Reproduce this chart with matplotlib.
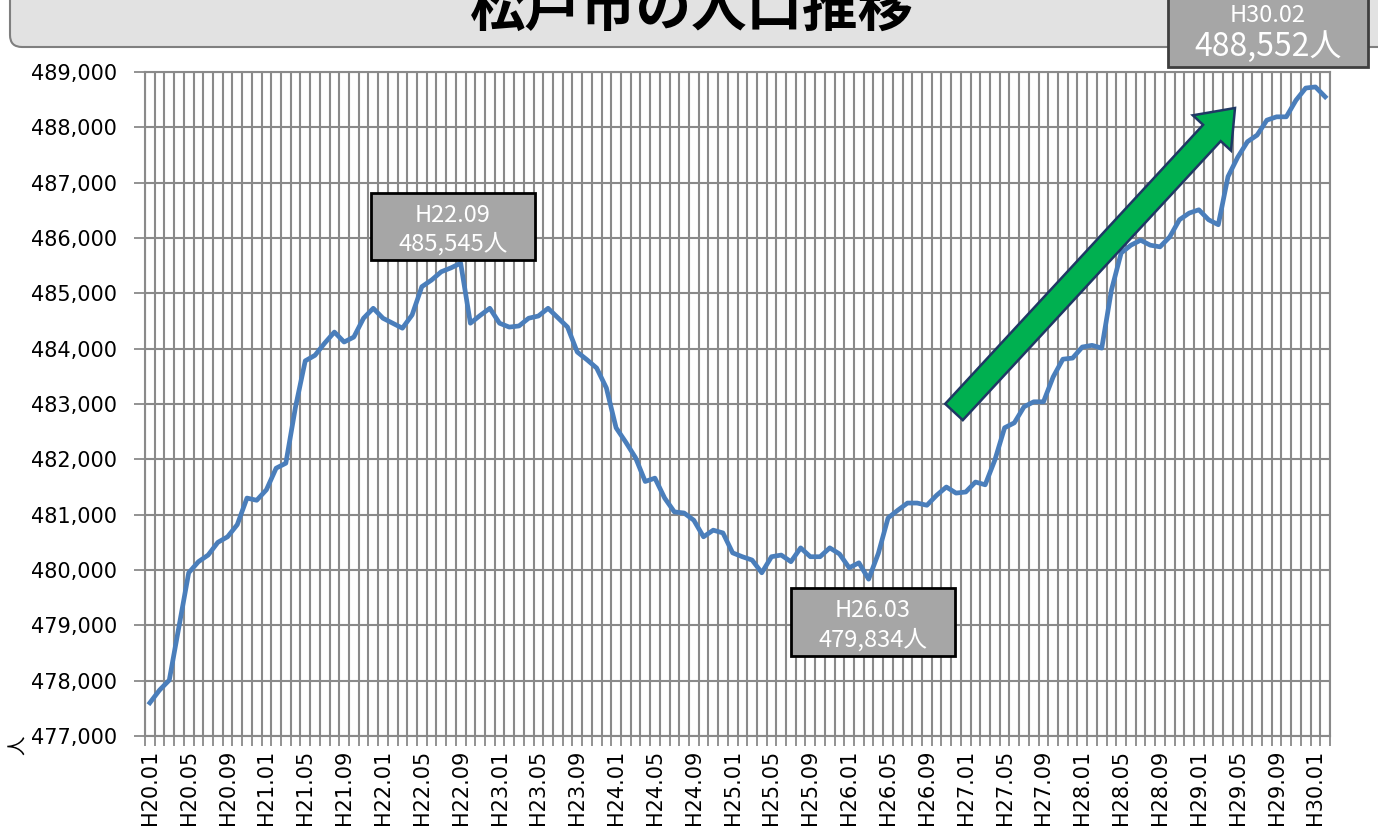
import numpy as np
import matplotlib
matplotlib.use("Agg")
import matplotlib.pyplot as plt
from matplotlib.patches import Rectangle, FancyBboxPatch, Polygon
from matplotlib.transforms import Affine2D

plt.rcParams['font.family'] = ['DejaVu Sans', 'Noto Sans CJK JP']

# monthly population, H20.01 .. H30.02
months = []
for y in range(20, 31):
    for m in range(1, 13):
        months.append(f"H{y}.{m:02d}")
months = months[:122]

population = [
    477600, 477830, 478010, 478980, 479950, 480150, 480270, 480500,
    480600, 480820, 481300, 481260, 481450, 481840, 481930, 482950,
    483780, 483880, 484100, 484300, 484120, 484210, 484550, 484730,
    484550, 484460, 484370, 484610, 485120, 485240, 485390, 485460,
    485545, 484460, 484600, 484730, 484460, 484390, 484410, 484550,
    484590, 484730, 484560, 484390, 483940, 483800, 483650, 483290,
    482570, 482310, 482030, 481600, 481660, 481300, 481050, 481030,
    480900, 480600, 480720, 480670, 480310, 480240, 480180, 479950,
    480240, 480270, 480150, 480400, 480240, 480240, 480400, 480290,
    480040, 480130, 479834, 480300, 480940, 481080, 481210, 481210,
    481170, 481350, 481500, 481390, 481410, 481590, 481540, 481990,
    482570, 482660, 482950, 483040, 483040, 483490, 483810, 483830,
    484030, 484060, 484010, 485060, 485730, 485870, 485960, 485870,
    485840, 486020, 486330, 486450, 486510, 486330, 486240, 487110,
    487460, 487740, 487860, 488130, 488190, 488190, 488490, 488710,
    488730, 488552,
]

tick_every = 4
y_ticks = list(range(477000, 489001, 1000))

title = "松戸市の人口推移"
callouts = [
    ("H22.09", "485,545人"),
    ("H26.03", "479,834人"),
    ("H30.02", "488,552人"),
]

W, H = 1378, 833
fig = plt.figure(figsize=(W / 100, H / 100), dpi=100)
# pixel coords (y down) for decorations
pix = Affine2D().scale(1 / W, -1 / H).translate(0, 1) + fig.transFigure

ax = fig.add_axes([145 / W, 1 - 736 / H, (1330 - 145) / W, (736 - 72) / H])
x = np.arange(len(population))
ax.plot(x, population, color='#4a7ebb', lw=3.4, solid_joinstyle='round', zorder=3)

grid_c = '#8a8a8a'
ax.set_xlim(-0.5, len(population) - 0.5)
ax.set_ylim(y_ticks[0], y_ticks[-1])
ax.set_yticks(y_ticks)
ax.set_yticklabels([f"{v:,}" for v in y_ticks], fontsize=15)
ax.set_xticks(x[::tick_every])
ax.set_xticklabels(months[::tick_every], rotation=90, fontsize=15)
ax.set_xticks(np.arange(-0.5, len(population), 1), minor=True)
ax.tick_params(axis='x', which='major', length=0, pad=10)
ax.tick_params(axis='x', which='minor', length=7, width=1.3, color=grid_c)
ax.tick_params(axis='y', length=8, width=1.3, color=grid_c, pad=12)
ax.grid(axis='y', which='major', color=grid_c, lw=1.5)
ax.grid(axis='x', which='minor', color=grid_c, lw=1.5)
for s in ax.spines.values():
    s.set_color(grid_c)
    s.set_linewidth(1.5)

# title box
fig.patches.append(FancyBboxPatch((10, -40), 1400, 87, boxstyle="round,pad=0,rounding_size=12",
                                  transform=pix, fc='#e2e2e2', ec='#7f7f7f', lw=1.5))
fig.text(692, 10, title, transform=pix, fontsize=40, fontweight='bold',
         family=['Noto Sans CJK JP'], ha='center', va='center')

# call-out boxes
def callout(x0, y0, x1, y1, lines, sizes, ys, ec='black'):
    fig.patches.append(Rectangle((x0, y0), x1 - x0, y1 - y0, transform=pix,
                                 fc='#a6a6a6', ec=ec, lw=2, zorder=5))
    for t, fs, yy in zip(lines, sizes, ys):
        fig.text((x0 + x1) / 2, yy, t, transform=pix, color='white', fontsize=fs,
                 family=['Noto Sans CJK JP'], ha='center', va='center', zorder=6)

callout(371, 193, 535, 260, callouts[0], [17, 17], [215, 244])
callout(791, 588, 955, 656, callouts[1], [17, 17], [611, 640])
callout(1168, -10, 1368, 67, callouts[2], [17, 23], [16, 47], ec='#3f3f3f')

# green arrow
tail = np.array([954.0, 412.0])
tip = np.array([1235.0, 108.0])
u = (tip - tail) / np.linalg.norm(tip - tail)
n = np.array([-u[1], u[0]])
sw, hw, hl = 12, 26, 34
base = tip - u * hl
pts = [tail + n * sw, base + n * sw, base + n * hw, tip,
       base - n * hw, base - n * sw, tail - n * sw]
fig.patches.append(Polygon(pts, closed=True, transform=pix, fc='#00b050',
                           ec='#1f3864', lw=1.8, zorder=4))

fig.text(18, 745, "人", transform=pix, fontsize=14, rotation=90,
         family=['Noto Sans CJK JP'], ha='center', va='center')

fig.savefig("out.png", dpi=100)
